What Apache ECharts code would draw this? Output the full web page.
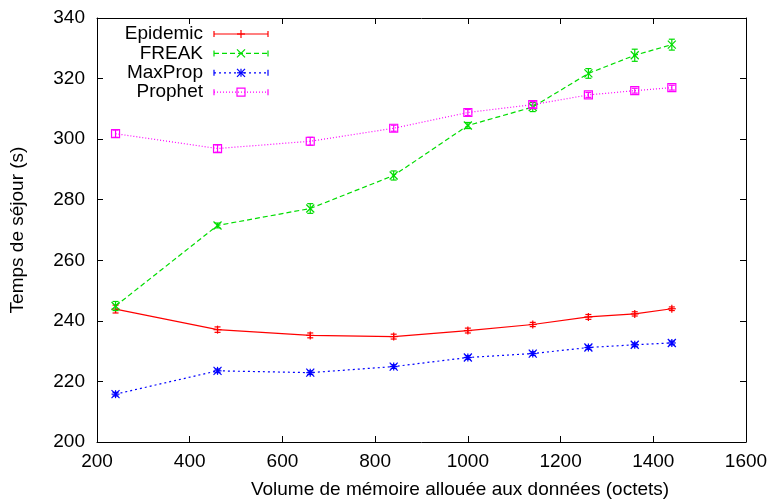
<!DOCTYPE html>
<html>
<head>
<meta charset="utf-8">
<script src="https://cdn.jsdelivr.net/npm/echarts@6/dist/echarts.min.js"></script>
<style>
  html, body { margin: 0; padding: 0; background: #fff; }
  #chart { width: 771px; height: 500px; }
</style>
</head>
<body>
<div id="chart"></div>
<script>
// Memory allocated to data (bytes) -> sojourn time (s)
const memSizes = [240, 460, 660, 840, 1000, 1140, 1260, 1360, 1440];

const epidemic    = [243.9, 237.1, 235.2, 234.8, 236.8, 238.8, 241.3, 242.3, 244.0];
const epidemicErr = [1.3, 0.9, 0.8, 0.8, 0.8, 0.7, 0.8, 0.7, 0.6];
const freak       = [244.9, 271.5, 277.1, 288.0, 304.5, 310.6, 321.7, 327.7, 331.2];
const freakErr    = [1.5, 0.8, 1.6, 1.5, 1.0, 1.5, 1.6, 2.0, 1.8];
const maxprop     = [215.8, 223.5, 222.9, 224.9, 227.9, 229.2, 231.2, 232.1, 232.7];
const maxpropErr  = [0.6, 0.6, 0.6, 0.6, 0.6, 0.6, 0.6, 0.6, 0.6];
const prophet     = [301.8, 296.9, 299.3, 303.6, 308.8, 311.4, 314.6, 316.0, 317.0];
const prophetErr  = [1.2, 1.2, 1.3, 1.0, 1.0, 1.0, 0.8, 0.8, 0.8];

const xTicks = { min: 200, max: 1600, interval: 200 };
const yTicks = { min: 200, max: 340, interval: 20 };

const FONT = 'Liberation Sans, Arial, Helvetica, sans-serif';
const FS = 19;

const seriesDefs = [
  { name: 'Epidemic', values: epidemic, errs: epidemicErr, color: '#ff0000', dash: 'solid', marker: 'plus' },
  { name: 'FREAK',    values: freak,    errs: freakErr,    color: '#00dd00', dash: [5, 3],  marker: 'cross' },
  { name: 'MaxProp',  values: maxprop,  errs: maxpropErr,  color: '#0000ff', dash: [2, 3],  marker: 'star' },
  { name: 'Prophet',  values: prophet,  errs: prophetErr,  color: '#ff00ff', dash: [1, 2],  marker: 'square' }
];

// small marker shapes drawn as strokes (gnuplot style)
function markerShapes(kind, cx, cy, r, style) {
  const ln = (x1, y1, x2, y2) => ({ type: 'line', shape: { x1, y1, x2, y2 }, style });
  const plus = [ln(cx - r, cy, cx + r, cy), ln(cx, cy - r, cx, cy + r)];
  const cross = [ln(cx - r, cy - r, cx + r, cy + r), ln(cx - r, cy + r, cx + r, cy - r)];
  if (kind === 'plus') return plus;
  if (kind === 'cross') return cross;
  if (kind === 'star') return plus.concat(cross);
  return [{ type: 'rect', shape: { x: cx - r, y: cy - r, width: 2 * r, height: 2 * r }, style }];
}

function errorRenderer(def) {
  return function (params, api) {
    const x = api.value(0), y = api.value(1), e = api.value(2);
    const p = api.coord([x, y]);
    const hi = api.coord([x, y + e]);
    const lo = api.coord([x, y - e]);
    const cap = 3;
    const style = { stroke: def.color, lineWidth: 1.2, fill: null };
    const children = [
      { type: 'line', shape: { x1: p[0], y1: hi[1], x2: p[0], y2: lo[1] }, style },
      { type: 'line', shape: { x1: p[0] - cap, y1: hi[1], x2: p[0] + cap, y2: hi[1] }, style },
      { type: 'line', shape: { x1: p[0] - cap, y1: lo[1], x2: p[0] + cap, y2: lo[1] }, style }
    ].concat(markerShapes(def.marker, p[0], p[1], 4, style));
    return { type: 'group', children };
  };
}

const series = [];
seriesDefs.forEach(def => {
  series.push({
    name: def.name,
    type: 'line',
    data: memSizes.map((x, i) => [x, def.values[i]]),
    showSymbol: false,
    lineStyle: { color: def.color, width: 1.2, type: def.dash },
    silent: true,
    z: 2
  });
  series.push({
    name: def.name,
    type: 'custom',
    data: memSizes.map((x, i) => [x, def.values[i], def.errs[i]]),
    renderItem: errorRenderer(def),
    silent: true,
    z: 3
  });
});

// legend drawn gnuplot-like: right aligned text, line sample with caps + marker
const legendGraphics = [];
seriesDefs.forEach((def, i) => {
  const y = 34 + i * 19.4;
  const style = { stroke: def.color, lineWidth: 1.2, fill: null };
  legendGraphics.push({
    type: 'text', x: 203, y: y,
    style: { text: def.name, fill: '#000', font: FS + 'px ' + FONT, textAlign: 'right', textVerticalAlign: 'middle' }
  });
  legendGraphics.push({
    type: 'line', shape: { x1: 214, y1: y, x2: 268, y2: y },
    style: { stroke: def.color, lineWidth: 1.2, lineDash: def.dash === 'solid' ? null : def.dash }
  });
  legendGraphics.push({ type: 'line', shape: { x1: 214, y1: y - 3, x2: 214, y2: y + 3 }, style });
  legendGraphics.push({ type: 'line', shape: { x1: 268, y1: y - 3, x2: 268, y2: y + 3 }, style });
  markerShapes(def.marker, 241, y, 4, style).forEach(m => legendGraphics.push(m));
});

legendGraphics.push({
  type: 'text', x: 460, y: 490,
  style: { text: 'Volume de mémoire allouée aux données (octets)', fill: '#000', font: FS + 'px ' + FONT, textAlign: 'center', textVerticalAlign: 'middle' }
});

const axisLine = { show: true, lineStyle: { color: '#000', width: 1 } };
const tick = { show: true, inside: true, length: 6, lineStyle: { color: '#000', width: 1 } };
const label = { color: '#000', fontSize: FS, fontFamily: FONT, formatter: v => String(v) };

const chart = echarts.init(document.getElementById('chart'), null, { renderer: 'canvas' });
chart.setOption({
  animation: false,
  backgroundColor: '#fff',
  grid: { left: 97, right: 25, top: 18, bottom: 58 },
  xAxis: [
    { type: 'value', position: 'bottom', ...xTicks, axisLine, axisTick: tick, splitLine: { show: false },
      axisLabel: { ...label, margin: 10 } },
    { type: 'value', position: 'top', ...xTicks, axisLine, axisTick: tick, splitLine: { show: false },
      axisLabel: { show: false } }
  ],
  yAxis: [
    { type: 'value', position: 'left', ...yTicks, axisLine, axisTick: tick, splitLine: { show: false },
      axisLabel: { ...label, margin: 12 },
      name: 'Temps de séjour (s)', nameLocation: 'middle', nameGap: 70,
      nameTextStyle: { color: '#000', fontSize: FS, fontFamily: FONT } },
    { type: 'value', position: 'right', ...yTicks, axisLine, axisTick: tick, splitLine: { show: false },
      axisLabel: { show: false } }
  ],
  graphic: legendGraphics,
  series: series
});
</script>
</body>
</html>
